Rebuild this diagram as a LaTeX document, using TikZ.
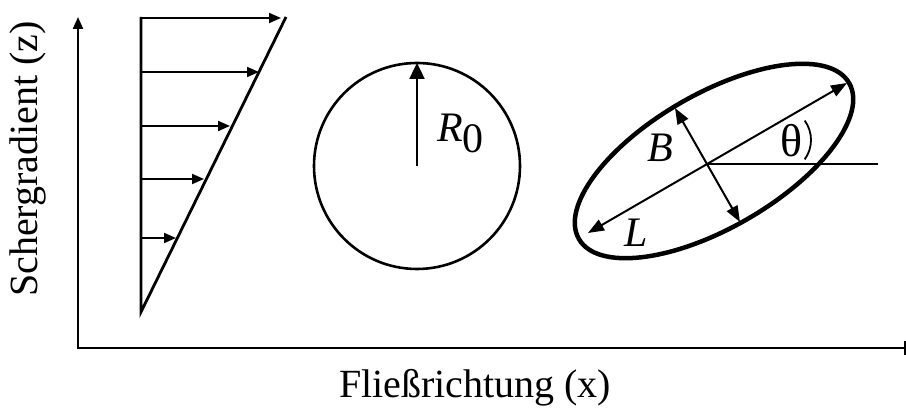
\documentclass[tikz,border=0pt]{standalone}
\usepackage{fontspec}
\setmainfont{Liberation Serif}
\usetikzlibrary{arrows.meta}
\tikzset{
  axisline/.style={line width=2.2pt, draw=black},
  profline/.style={line width=2.8pt, draw=black},
  velarrow/.style={line width=2pt, -{Triangle[length=12pt,width=10pt]}},
  bigarrow/.style={line width=2.4pt, -{Triangle[length=16pt,width=15pt]}},
  ellarrow/.style={line width=2pt, {Triangle[length=16pt,width=12pt]}-{Triangle[length=16pt,width=12pt]}},
  lbl/.style={font=\fontsize{40}{40}\selectfont, inner sep=0pt, outer sep=0pt},
}
\begin{document}
\begin{tikzpicture}[x=1pt,y=1pt]
\useasboundingbox (0,0) rectangle (906,414);
% axes
\coordinate (o) at (78,66);
\coordinate (ztop) at (78,397);
\coordinate (xo) at (77,66);
\coordinate (xend) at (905,66);
\draw[axisline, -{Triangle[length=12pt,width=10pt]}] (o) -- (ztop);
\draw[axisline] (xo) -- (xend);
\coordinate (tk1) at (905,59);
\coordinate (tk2) at (905,73);
\draw[line width=2.2pt] (tk1) -- (tk2);
\node[lbl, rotate=90, anchor=base] (zl) at (37,255) {Schergradient (z)};
\node[lbl, anchor=base west] (xl) at (339,16) {Fließrichtung (x)};
% shear profile
\coordinate (pb) at (141,102);
\coordinate (pt) at (141,397);
\coordinate (ps) at (286,397);
\draw[profline] (pt) -- (pb) -- (ps);
\foreach \i/\yy/\xx in {1/396/281, 2/342/259, 3/288/230, 4/235/204, 5/176/176}{
  \coordinate (a\i) at (141,\yy);
  \coordinate (b\i) at (\xx,\yy);
  \draw[velarrow] (a\i) -- (b\i);
}
% circle
\coordinate (c0) at (417,248);
\coordinate (ctop) at (417,351);
\draw[line width=2.6pt] (c0) circle[radius=103];
\draw[bigarrow] (c0) -- (ctop);
\node[lbl, anchor=base west] (r0) at (437,272) {\fontsize{42}{42}\selectfont\textit{R}\raisebox{-11pt}{0}};
% ellipse
\coordinate (ec) at (714,253);
\draw[line width=4.5pt, rotate around={30:(ec)}] (ec) ellipse[x radius=156, y radius=67];
\coordinate (e0) at (707,250);
\coordinate (l1) at (588,181);
\coordinate (l2) at (847,331);
\coordinate (s1) at (675,306);
\coordinate (s2) at (740,192);
\coordinate (h2) at (878,250);
\draw[ellarrow] (l1) -- (l2);
\draw[ellarrow] (s1) -- (s2);
\draw[line width=2.2pt] (e0) -- (h2);
\node[lbl, anchor=base west] (bl) at (647,252) {\fontsize{42}{42}\selectfont\textit{B}};
\node[lbl, anchor=base west] (ll) at (624,167) {\fontsize{42}{42}\selectfont\textit{L}};
\node[lbl, anchor=base] (th) at (792,257) {\fontsize{46}{46}\selectfont θ};
\coordinate (ac) at (778,274);
\draw[line width=1.8pt] ([shift={(-36:33)}]ac) arc[start angle=-36, end angle=36, radius=33];
\end{tikzpicture}
\end{document}
